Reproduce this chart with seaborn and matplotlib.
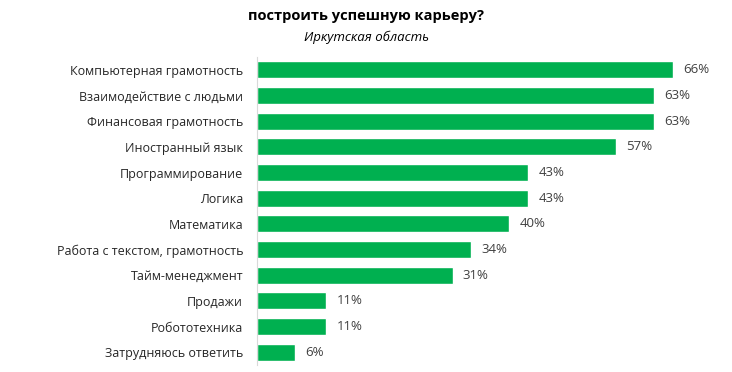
import pandas as pd
import matplotlib
matplotlib.use("Agg")
import matplotlib.pyplot as plt
import seaborn as sns

# Данные
skills = [
    "Компьютерная грамотность",
    "Взаимодействие с людьми",
    "Финансовая грамотность",
    "Иностранный язык",
    "Программирование",
    "Логика",
    "Математика",
    "Работа с текстом, грамотность",
    "Тайм-менеджмент",
    "Продажи",
    "Робототехника",
    "Затрудняюсь ответить",
]
shares = [66, 63, 63, 57, 43, 43, 40, 34, 31, 11, 11, 6]

title = "построить успешную карьеру?"
subtitle = "Иркутская область"

sns.set_style("white")
plt.rcParams["font.family"] = ["Open Sans", "DejaVu Sans"]

df = pd.DataFrame({"skill": skills, "share": shares})

fig = plt.figure(figsize=(7.32, 3.72), dpi=100)
ax = fig.add_axes([257 / 732, 7 / 372, (730 - 257) / 732, (315 - 7) / 372])

sns.barplot(data=df, x="share", y="skill", color="#00B050", width=0.66,
            saturation=1, ax=ax)

for i, v in enumerate(shares):
    ax.text(v + 1.6, i, f"{v}%", va="center", ha="left", fontsize=9.5, color="#404040")

ax.set_xlim(0, 75)
ax.set_xlabel("")
ax.set_ylabel("")
ax.set_xticks([])
ax.tick_params(axis="y", labelsize=9, colors="#262626", length=0, pad=10)
for side in ["top", "right", "bottom"]:
    ax.spines[side].set_visible(False)
ax.spines["left"].set_color("#d9d9d9")

fig.text(0.5, 1 - 16 / 372, title, ha="center", va="center",
         fontsize=10.5, fontweight="bold", color="#000000")
fig.text(0.5, 1 - 37 / 372, subtitle, ha="center", va="center",
         fontsize=9.5, style="italic", color="#000000")

fig.savefig("out.png", dpi=100)
